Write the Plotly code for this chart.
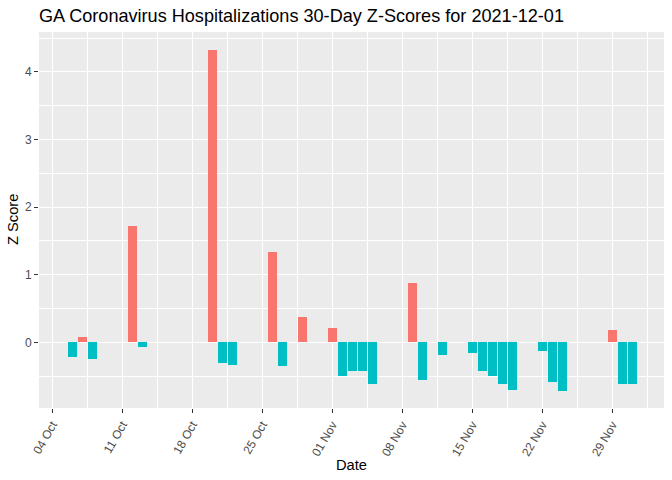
import plotly.graph_objects as go
import pandas as pd

dates = ["2021-10-06", "2021-10-07", "2021-10-08", "2021-10-12", "2021-10-13",
         "2021-10-20", "2021-10-21", "2021-10-22", "2021-10-26", "2021-10-27",
         "2021-10-29", "2021-11-01", "2021-11-02", "2021-11-03", "2021-11-04",
         "2021-11-05", "2021-11-09", "2021-11-10", "2021-11-12", "2021-11-15",
         "2021-11-16", "2021-11-17", "2021-11-18", "2021-11-19", "2021-11-22",
         "2021-11-23", "2021-11-24", "2021-11-29", "2021-11-30", "2021-12-01"]
zscores = [-0.22, 0.08, -0.25, 1.72, -0.07,
           4.33, -0.31, -0.33, 1.33, -0.35,
           0.38, 0.21, -0.50, -0.43, -0.43,
           -0.61, 0.88, -0.56, -0.19, -0.15,
           -0.43, -0.50, -0.61, -0.71, -0.13,
           -0.59, -0.72, 0.18, -0.61, -0.62]
tick_dates = ["2021-10-04", "2021-10-11", "2021-10-18", "2021-10-25", "2021-11-01",
              "2021-11-08", "2021-11-15", "2021-11-22", "2021-11-29"]
tick_labels = ["04 Oct", "11 Oct", "18 Oct", "25 Oct", "01 Nov",
               "08 Nov", "15 Nov", "22 Nov", "29 Nov"]

POS = "#F8766D"
NEG = "#00BFC4"
colors = [POS if v > 0 else NEG for v in zscores]

fig = go.Figure()
fig.add_trace(go.Bar(
    x=pd.to_datetime(dates), y=zscores,
    marker=dict(color=colors, line=dict(width=0)),
    width=0.9 * 86400000,
    showlegend=False,
))

font = "Liberation Sans, Arial, sans-serif"
fig.update_layout(
    width=672, height=480,
    margin=dict(l=39, r=8, t=32, b=72, autoexpand=False),
    paper_bgcolor="white",
    plot_bgcolor="#EBEBEB",
    font=dict(family=font, color="#000000"),
    title=dict(text="GA Coronavirus Hospitalizations 30-Day Z-Scores for 2021-12-01",
               x=0, xref="paper", xanchor="left",
               y=1 - 16 / 480, yref="container", yanchor="middle",
               font=dict(size=18.1, color="black")),
    bargap=0,
    annotations=[
        dict(text="Date", xref="paper", yref="paper", x=(351.7 - 39) / 625, y=-(465 - 408) / 376,
             xanchor="center", yanchor="middle", showarrow=False,
             font=dict(size=14.7, color="black")),
        dict(text="Z Score", xref="paper", yref="paper", x=-(39 - 13) / 625, y=0.5,
             xanchor="center", yanchor="middle", showarrow=False, textangle=-90,
             font=dict(size=14.7, color="black")),
    ],
)
fig.update_xaxes(
    type="date", automargin=False,
    range=["2021-10-02 16:00", "2021-12-04 04:00"],
    tickmode="array", tickvals=pd.to_datetime(tick_dates), ticktext=tick_labels,
    tickangle=-60,
    tickfont=dict(size=12, color="#4D4D4D"),
    ticks="outside", ticklen=4, tickcolor="#333333", tickwidth=1,
    showgrid=True, gridcolor="white", gridwidth=1.4,
    minor=dict(showgrid=True, gridcolor="white", gridwidth=0.7,
               tick0="2021-09-30 12:00", dtick=7 * 86400000),
    zeroline=False, showline=False,
)
fig.update_yaxes(
    automargin=False,
    range=[-0.97, 4.59],
    tickmode="array", tickvals=[0, 1, 2, 3, 4],
    tickfont=dict(size=12, color="#4D4D4D"),
    ticks="outside", ticklen=4, tickcolor="#333333", tickwidth=1,
    showgrid=True, gridcolor="white", gridwidth=1.4,
    minor=dict(showgrid=True, gridcolor="white", gridwidth=0.7,
               tickmode="array", tickvals=[-0.5, 0.5, 1.5, 2.5, 3.5, 4.5]),
    zeroline=False, showline=False,
)

fig.write_html("out.html", config={"displayModeBar": False},
               post_script="document.body.style.margin='0';document.body.style.padding='0';")
